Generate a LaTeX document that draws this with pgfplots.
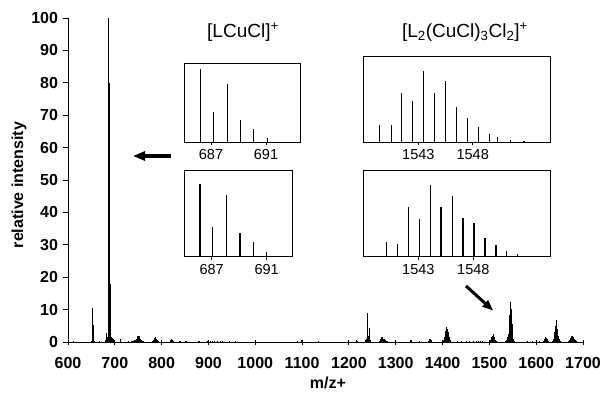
\documentclass[border=0pt]{standalone}
\usepackage{fontspec}
\setmainfont{Liberation Sans}
\usepackage{pgfplots}
\pgfplotsset{compat=1.18}
\usetikzlibrary{arrows.meta}
\newcommand{\tickfont}{\fontsize{16bp}{16bp}\selectfont\bfseries}
\newcommand{\insfont}{\fontsize{14.5bp}{14.5bp}\selectfont}
\begin{document}
\begin{tikzpicture}[x=1bp,y=1bp]
\useasboundingbox (0,0) rectangle (602,392);
\begin{axis}[
  at={(68bp,50bp)}, anchor=south west,
  scale only axis, width=515bp, height=324bp,
  xmin=600, xmax=1700, ymin=0, ymax=100,
  axis x line*=bottom, axis y line*=left,
  axis line style={line width=0.9bp},
  xtick={600,700,...,1700}, ytick={0,10,...,100},
  tick align=outside, major tick length=5bp,
  tick style={line width=0.9bp, black},
  xtick style={yshift=2.5bp},
  tick label style={font=\tickfont},
  /pgf/number format/assume math mode=true,
  /pgf/number format/1000 sep={},
  xticklabel style={yshift=-7bp},
  yticklabel style={xshift=-1.5bp},
  clip=false,
]
\addplot[ycomb, black, line width=0.7bp, no marks] coordinates {
(611,0.4) (612,0.2)
(650,0.3) (651,1.0) (652,10.5) (653,2.0) (654,5.3) (655,1.0) (656,0.4)
(668,0.3)
(680,0.5) (681,1.0) (682,2.7) (683,1.2) (684,1.5) (685,1.0)
(686,100) (687,40) (688,80) (689,30) (690,18) (691,5.5) (692,1.5) (693,1.2) (694,1.0) (695,1.1) (696,0.8) (697,0.6) (698,0.4)
(711,0.8)
(728,0.2) (736,0.3) (738,0.4) (740,0.4) (742,0.5) (744,0.6) (746,0.8) (748,1.5) (749,1.8) (750,2.0) (751,1.4) (752,1.7) (753,1.2) (754,1.0) (756,0.6) (758,0.4) (760,0.3)
(781,0.3) (783,0.6) (784,1.0) (785,1.3) (786,1.4) (787,1.1) (788,0.9) (790,0.5) (792,0.3)
(818,0.3) (819,0.5) (820,0.7) (821,0.8) (822,0.6) (824,0.4) (826,0.2)
(838,0.3) (840,0.3) (850,0.3) (852,0.3)
(878,0.3) (880,0.3) (898,0.2) (905,0.3) (908,0.3) (912,0.3) (918,0.3) (925,0.3) (930,0.3) (945,0.2) (958,0.3)
(1000,0.2)
(1090,0.3) (1098,0.5) (1100,0.3) (1134,0.2)
(1216,0.5) (1218,0.3)
(1236,0.5) (1238,1.0) (1239,3.0) (1240,8.8) (1241,2.0) (1242,1.5) (1243,4.3) (1244,1.0) (1245,0.5)
(1266,0.3) (1268,0.8) (1269,1.2) (1270,1.5) (1271,1.3) (1272,1.4) (1274,1.0) (1276,0.8) (1278,0.5) (1280,0.3) (1282,0.2)
(1332,0.5) (1333,0.6) (1334,0.4)
(1350,0.2)
(1370,0.3) (1371,0.6) (1372,0.9) (1373,1.0) (1374,0.9) (1375,0.7) (1376,0.4)
(1402,0.5) (1403,1.0) (1404,1.5) (1405,2.0) (1406,3.0) (1407,3.5) (1408,4.7) (1409,3.6) (1410,4.0) (1411,3.0) (1412,3.2) (1413,2.0) (1414,1.5) (1415,1.0) (1416,0.5)
(1432,0.2) (1440,0.2) (1450,0.2) (1458,0.2) (1466,0.2) (1472,0.3) (1476,0.3) (1480,0.3) (1484,0.3)
(1500,0.3) (1502,0.5) (1504,1.0) (1505,1.5) (1506,1.8) (1507,2.0) (1508,2.4) (1509,1.8) (1510,1.5) (1511,1.0) (1512,0.6) (1514,0.3)
(1535,0.3) (1537,0.5) (1538,1.0) (1539,1.5) (1540,2.5) (1541,2.1) (1542,8.4) (1543,6.3) (1544,12.2) (1545,8.5) (1546,10.3) (1547,6.5) (1548,5.7) (1549,3.1) (1550,2.0) (1551,1.0) (1552,0.5) (1553,0.3)
(1582,0.2) (1592,0.2) (1600,0.2) (1606,0.3)
(1615,0.3) (1617,0.6) (1618,0.9) (1619,1.2) (1620,1.4) (1621,1.3) (1622,1.0) (1623,0.8) (1625,0.4)
(1634,0.3) (1636,0.6) (1637,1.0) (1638,2.0) (1639,3.0) (1640,4.5) (1641,5.0) (1642,6.9) (1643,5.0) (1644,5.5) (1645,4.0) (1646,3.5) (1647,2.0) (1648,1.5) (1649,1.0) (1650,0.6) (1651,0.3)
(1668,0.3) (1670,0.6) (1672,1.0) (1674,1.3) (1675,1.6) (1676,1.8) (1677,1.9) (1678,1.7) (1679,1.5) (1680,1.2) (1682,0.8) (1684,0.5) (1686,0.3)
};
\end{axis}

\pgfplotsset{inset/.style={
  scale only axis, anchor=south west,
  ymin=0, ymax=100, ytick=\empty,
  xtick pos=left, tick align=outside, major tick length=3bp,
  tick style={line width=0.8bp, black},
  axis line style={line width=0.8bp},
  tick label style={font=\insfont},
  /pgf/number format/assume math mode=true,
  /pgf/number format/1000 sep={},
  xticklabel style={yshift=-1bp},
  clip=false,
}}

% [LCuCl]+ top
\begin{axis}[inset, at={(184bp,250bp)}, width=116bp, height=79bp,
  xmin=685.04, xmax=693.47, xtick={687,691}]
\addplot[ycomb, black, line width=1.1bp, no marks] coordinates {
(686.25,92.3) (687.2,37.4) (688.2,73.6) (689.15,27.7) (690.1,17.0) (691.1,5.1)};
\end{axis}
% [LCuCl]+ bottom
\begin{axis}[inset, at={(184bp,135.3bp)}, width=108.7bp, height=86.7bp,
  xmin=684.99, xmax=692.89, xtick={687,691}]
\addplot[ycomb, black, line width=1.1bp, no marks] coordinates {
(686.15,83.8) (687.07,33.8) (688.09,71.2) (689.06,26.9) (690.03,17.3) (691.0,5.8) (692.0,0.6)};
\end{axis}
% [L2(CuCl)3Cl2]+ top
\begin{axis}[inset, at={(363.3bp,249.7bp)}, width=186.7bp, height=86.3bp,
  xmin=1537.94, xmax=1555.11, xtick={1543,1548}]
\addplot[ycomb, black, line width=1.1bp, no marks] coordinates {
(1539.41,19.7) (1540.55,19.7) (1541.47,56.8) (1542.48,48.3) (1543.46,82.6) (1544.47,56.8)
(1545.52,71.0) (1546.53,40.9) (1547.51,28.6) (1548.52,18.1) (1549.53,9.3) (1550.30,6.6)
(1551.44,2.7) (1552.72,1.9) (1553.89,0.8)};
\end{axis}
% [L2(CuCl)3Cl2]+ bottom
\begin{axis}[inset, at={(363.3bp,135.3bp)}, width=186.7bp, height=86.7bp,
  xmin=1538, xmax=1554.97, xtick={1543,1548}]
\addplot[ycomb, black, line width=1.1bp, no marks] coordinates {
(1540.12,17.3) (1541.12,14.2) (1542.12,56.9) (1543.09,43.1) (1544.09,82.7) (1545.06,57.7)
(1546.09,70.0) (1547.06,44.2) (1548.06,38.5) (1549.06,21.2) (1550.06,13.5) (1551.03,6.9)
(1552.03,2.7) (1553.06,0.6)};
\end{axis}

\node[font=\fontsize{19bp}{19bp}\selectfont] at (243,360) {[LCuCl]\textsuperscript{+}};
\node[font=\fontsize{19bp}{19bp}\selectfont] at (465,360) {[L\textsubscript{2}(CuCl)\textsubscript{3}Cl\textsubscript{2}]\textsuperscript{+}};

\node[rotate=90, font=\fontsize{16bp}{16bp}\selectfont\bfseries] at (19,207) {relative intensity};
\node[font=\fontsize{16bp}{16bp}\selectfont\bfseries] at (328,9) {m/z+};

\draw[line width=3.5bp, -{Triangle[length=12bp,width=9bp]}] (171,236) -- (133,236);
\draw[line width=3bp, -{Triangle[length=11bp,width=8bp]}] (466,106) -- (493.3,81.3);
\end{tikzpicture}
\end{document}
